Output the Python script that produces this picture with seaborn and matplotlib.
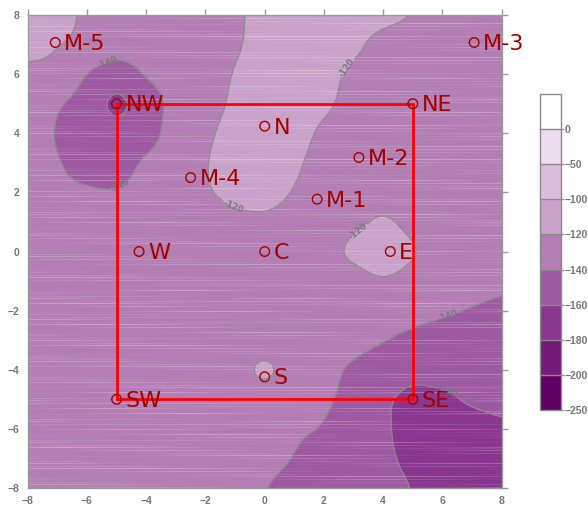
import numpy as np
import pandas as pd
import matplotlib
matplotlib.use("Agg")
import matplotlib.pyplot as plt
from matplotlib.ticker import FuncFormatter
import seaborn as sns

# Station names and positions
station_names = ["M-5", "M-3", "NW", "NE", "N", "M-2", "M-4", "M-1",
                 "W", "C", "E", "S", "SW", "SE"]
station_x = [-7.07, 7.07, -5, 5, 0, 3.18, -2.5, 1.77, -4.24, 0, 4.24, 0, -5, 5]
station_y = [7.07, 7.07, 5, 5, 4.24, 3.18, 2.5, 1.77, 0, 0, 0, -4.24, -5, -5]

# Outline of the inner square (SW -> SE -> NE -> NW -> SW)
box_x = [-5, 5, 5, -5, -5]
box_y = [-5, -5, 5, 5, -5]

# Field values on the integer grid, rows from y = 8 down to y = -8, columns x = -8 .. 8
grid_x = list(range(-8, 9))
grid_y = list(range(8, -9, -1))
field_rows = [
    [-105, -111, -124, -128, -130, -129, -126, -123, -113, -109, -108, -110, -115, -121, -127, -130, -131],
    [-112, -119, -126, -132, -132, -130, -127, -122, -113, -109, -109, -116, -126, -128, -130, -131, -131],
    [-125, -127, -140, -148, -139, -133, -128, -119, -110, -108, -114, -123, -128, -130, -131, -131, -131],
    [-129, -138, -147, -163, -148, -135, -129, -116, -108, -109, -117, -125, -129, -131, -131, -131, -131],
    [-130, -141, -148, -152, -146, -133, -124, -112, -107, -113, -123, -128, -130, -131, -131, -131, -131],
    [-130, -139, -145, -146, -138, -131, -121, -112, -108, -117, -126, -129, -130, -130, -131, -131, -131],
    [-130, -136, -138.5, -139, -135, -131, -122, -116, -114, -121, -127, -128, -128, -129, -130, -131, -131],
    [-130, -132, -133, -133, -132, -130, -128, -124, -123, -126, -128, -124, -118, -125, -129, -130, -131],
    [-130, -131, -131, -131, -131, -130, -129, -128, -127, -127, -126, -117, -110, -119, -128, -130, -131],
    [-131, -131, -131, -131, -131, -131, -131, -130, -130, -130, -129, -127, -122, -127, -131, -133, -136],
    [-131, -131, -131, -131, -131, -131, -131, -131, -131, -132, -133, -134, -135, -136, -138, -141, -144],
    [-131, -131, -131, -131, -131, -131, -131, -131, -132, -133, -134, -136, -139.5, -143, -146, -148, -150],
    [-131, -131, -131, -131, -131, -131, -131, -130, -117, -132, -136, -142, -148, -153, -153, -152, -154],
    [-131, -131, -131, -131, -131, -131, -131, -131, -132, -134, -138, -145, -156, -165, -163, -158, -156],
    [-131, -131, -131, -131, -131, -131, -131, -132, -133, -138, -141, -148, -157, -167, -168, -166, -163],
    [-131, -131, -131, -131, -131, -131, -132, -133, -136, -140.5, -145, -149, -155, -166, -170, -170, -168],
    [-131, -131, -131, -131, -131, -132, -133, -135, -139.5, -144, -147, -149, -150, -161, -166, -170, -170],
]

# Contour levels and band colours
levels = [-250, -200, -180, -160, -140, -120, -100, -50, 0, 50]
band_colors = ["#5f0062", "#741b79", "#89368f", "#9d5aa1", "#b27eb3",
               "#c8a2c9", "#dabeda", "#ecdeed", "#ffffff"]
line_levels = [-160, -140, -120]


def catmull_rom_matrix(n_coarse, n_fine):
    """Weights that resample a row of n_coarse samples onto n_fine points."""
    s = np.linspace(0, n_coarse - 1, n_fine)
    i = np.clip(np.floor(s).astype(int), 0, n_coarse - 2)
    t = s - i
    w = [0.5 * (-t**3 + 2 * t**2 - t),
         0.5 * (3 * t**3 - 5 * t**2 + 2),
         0.5 * (-3 * t**3 + 4 * t**2 + t),
         0.5 * (t**3 - t**2)]
    m = np.zeros((n_fine, n_coarse))
    rows = np.arange(n_fine)
    for k, off in enumerate((-1, 0, 1, 2)):
        np.add.at(m, (rows, np.clip(i + off, 0, n_coarse - 1)), w[k])
    return m


def streak_overlay(n_rows, n_cols):
    """Faint horizontal white streaks laid over the filled contours."""
    r = np.arange(n_rows)[:, None]
    c = np.arange(n_cols)[None, :]
    g = (r * 0.6180339887) % 1.0
    h = (r * 0.7548776662 + 0.3) % 1.0
    ph = 2 * np.pi * ((r * 0.5698402910) % 1.0)
    strength = np.clip((g - 0.45) / 0.55, 0, 1) * 0.32
    wave = (0.5 + 0.5 * np.sin(c * (0.004 + 0.02 * h) + ph)) ** 2
    img = np.ones((n_rows, n_cols, 4))
    img[..., 3] = strength * wave
    return img


sns.set_theme(style="white")
plt.rcParams["font.family"] = ["DejaVu Sans"]

fig = plt.figure(figsize=(5.88, 5.11), dpi=100)
ax = fig.add_axes([27.7 / 588, 23 / 511, 474 / 588, 473 / 511])

# Smooth surface through the grid values
z = np.asarray(field_rows, dtype=float)
n_fine = 241
wy = catmull_rom_matrix(len(grid_y), n_fine)
wx = catmull_rom_matrix(len(grid_x), n_fine)
z_f = wy @ z @ wx.T
xf = np.linspace(grid_x[0], grid_x[-1], n_fine)
yf = np.linspace(grid_y[0], grid_y[-1], n_fine)

cf = ax.contourf(xf, yf, z_f, levels=levels, colors=band_colors, zorder=1)
ax.imshow(streak_overlay(473, 474), extent=(-8, 8, -8, 8), aspect="auto",
          interpolation="nearest", zorder=1.5)
cl = ax.contour(xf, yf, z_f, levels=line_levels, colors="#8a8a8a",
                linewidths=0.9, linestyles="solid", zorder=2)
label_spots = [(-5.33, 6.41), (-4.9, 2.25), (-1.08, 1.47), (2.8, 6.2),
               (3.1, 0.75), (6.18, -2.2), (6.18, -4.68)]
texts = ax.clabel(cl, fmt=lambda v: f"-{abs(int(v))}", manual=label_spots,
                  inline=True, inline_spacing=2, fontsize=6, colors="#7a7a7a")
for t in texts:
    t.set_fontweight("bold")

# Inner square
ax.plot(box_x, box_y, color="#ff0000", lw=2, zorder=4, solid_joinstyle="miter")

# Stations
stations = pd.DataFrame({"name": station_names, "x": station_x, "y": station_y})
sns.scatterplot(data=stations, x="x", y="y", ax=ax, s=48, marker="o",
                legend=False, zorder=5)
pts = ax.collections[-1]
pts.set_facecolor("none")
pts.set_edgecolor("#a30000")
pts.set_linewidth(1.0)
pts.set_clip_on(False)

for name, x, y in zip(station_names, station_x, station_y):
    ax.annotate(name, (x, y), xytext=(6.5, -1), textcoords="offset points",
                ha="left", va="center", fontsize=16, color="#a30000",
                family=["Liberation Sans Narrow", "DejaVu Sans"],
                annotation_clip=False, zorder=6)

ax.set_xlim(-8, 8)
ax.set_ylim(-8, 8)
ax.set_xticks(range(-8, 9, 2))
ax.set_yticks(range(-8, 9, 2))
ax.set_xlabel("")
ax.set_ylabel("")
ax.tick_params(direction="out", length=4, width=1, color="#9a9a9a",
               labelsize=7.5, labelcolor="#777777", top=True, right=True,
               labeltop=False, labelright=False, pad=2)
for lab in ax.get_xticklabels() + ax.get_yticklabels():
    lab.set_fontweight("bold")
    lab.set_family(["Liberation Sans", "DejaVu Sans"])
for sp in ax.spines.values():
    sp.set_visible(True)
    sp.set_color("#9a9a9a")
    sp.set_linewidth(1)

# Colour legend
cax = fig.add_axes([540 / 588, (511 - 410) / 511, 21 / 588, 316 / 511])
cb = fig.colorbar(cf, cax=cax, spacing="uniform", ticks=levels[:-1],
                  drawedges=True)
cb.outline.set_edgecolor("#8a8a8a")
cb.outline.set_linewidth(1)
cb.dividers.set_color("#8a8a8a")
cb.dividers.set_linewidth(1)
cax.yaxis.set_major_formatter(FuncFormatter(lambda v, p: f"{int(round(v))}".replace("-", "\u2212")))
cax.tick_params(labelsize=7.5, labelcolor="#777777", color="#9a9a9a",
                length=2, width=1, pad=0.5)
for lab in cax.get_yticklabels():
    lab.set_fontweight("bold")
    lab.set_family(["Liberation Sans Narrow", "Liberation Sans", "DejaVu Sans"])

fig.savefig("out.png", dpi=100)
